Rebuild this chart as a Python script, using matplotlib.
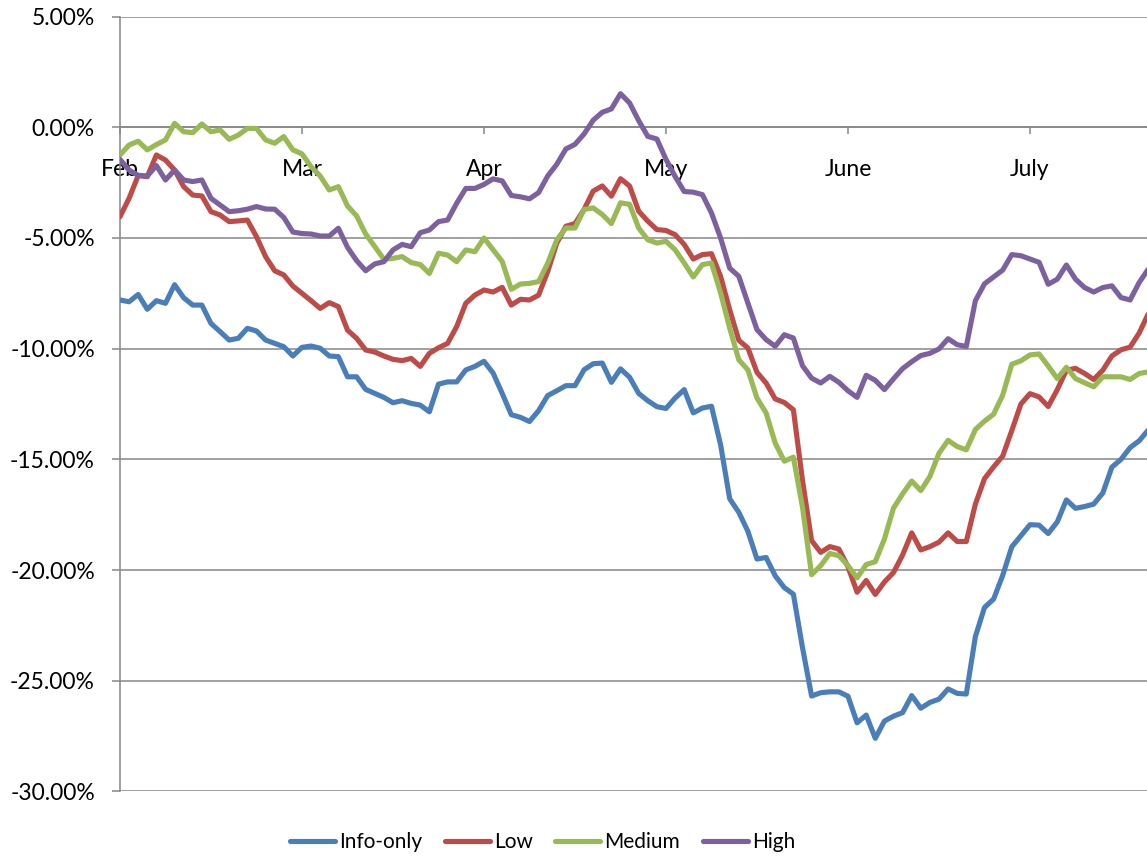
import numpy as np
import matplotlib
matplotlib.use("Agg")
import matplotlib.pyplot as plt
from matplotlib.ticker import FuncFormatter

plt.rcParams['font.family'] = ['Lato', 'DejaVu Sans']

# cumulative return (%) per trading day, roughly 20 points per month starting Feb
info_only = [
    -7.80, -7.88, -7.55, -8.22, -7.83, -7.95, -7.11, -7.70, -8.03, -8.03,
    -8.86, -9.23, -9.61, -9.53, -9.08, -9.20, -9.61, -9.76, -9.91, -10.33,
    -9.94, -9.88, -9.98, -10.33, -10.36, -11.27, -11.27, -11.84, -12.02, -12.20,
    -12.44, -12.35, -12.47, -12.55, -12.85, -11.60, -11.50, -11.50, -10.96, -10.80,
    -10.57, -11.10, -12.02, -12.98, -13.10, -13.29, -12.80, -12.12, -11.90, -11.67,
    -11.67, -10.95, -10.68, -10.65, -11.52, -10.91, -11.29, -12.02, -12.35, -12.62,
    -12.70, -12.23, -11.85, -12.90, -12.68, -12.60, -14.34, -16.78, -17.39, -18.25,
    -19.50, -19.43, -20.26, -20.79, -21.09, -23.50, -25.69, -25.54, -25.50, -25.50,
    -25.70, -26.90, -26.55, -27.60, -26.82, -26.60, -26.44, -25.67, -26.24, -25.98,
    -25.83, -25.37, -25.57, -25.60, -23.00, -21.69, -21.31, -20.24, -18.95, -18.45,
    -17.95, -17.97, -18.35, -17.82, -16.83, -17.21, -17.13, -17.02, -16.52, -15.35,
    -15.00, -14.47, -14.16, -13.67,
]
low = [
    -4.04, -3.21, -2.18, -2.23, -1.25, -1.48, -1.93, -2.68, -3.06, -3.10,
    -3.81, -3.96, -4.26, -4.23, -4.19, -4.94, -5.84, -6.48, -6.67, -7.17,
    -7.50, -7.83, -8.18, -7.92, -8.10, -9.16, -9.53, -10.06, -10.15, -10.33,
    -10.48, -10.54, -10.44, -10.80, -10.21, -9.96, -9.76, -9.00, -7.95, -7.58,
    -7.35, -7.44, -7.23, -8.03, -7.77, -7.80, -7.58, -6.52, -5.23, -4.47,
    -4.35, -3.71, -2.88, -2.65, -3.11, -2.32, -2.65, -3.79, -4.24, -4.62,
    -4.66, -4.85, -5.29, -5.95, -5.75, -5.71, -6.73, -8.24, -9.62, -9.97,
    -11.07, -11.55, -12.27, -12.43, -12.76, -15.95, -18.67, -19.20, -18.94, -19.05,
    -19.85, -21.00, -20.47, -21.10, -20.54, -20.11, -19.32, -18.32, -19.09, -18.94,
    -18.74, -18.32, -18.71, -18.71, -17.02, -15.87, -15.34, -14.85, -13.70, -12.50,
    -12.03, -12.18, -12.61, -11.85, -10.97, -10.89, -11.12, -11.39, -10.97, -10.33,
    -10.05, -9.93, -9.29, -8.42,
]
medium = [
    -1.25, -0.80, -0.63, -1.02, -0.78, -0.57, 0.18, -0.20, -0.24, 0.15,
    -0.20, -0.12, -0.54, -0.35, -0.05, -0.05, -0.57, -0.72, -0.42, -1.02,
    -1.20, -1.78, -2.20, -2.83, -2.68, -3.55, -4.00, -4.82, -5.39, -5.96,
    -5.92, -5.84, -6.11, -6.20, -6.60, -5.69, -5.77, -6.07, -5.54, -5.62,
    -5.00, -5.53, -6.06, -7.32, -7.08, -7.05, -6.97, -6.14, -5.08, -4.55,
    -4.55, -3.71, -3.64, -3.94, -4.35, -3.41, -3.48, -4.55, -5.08, -5.23,
    -5.15, -5.53, -6.13, -6.76, -6.20, -6.13, -7.48, -9.07, -10.50, -10.96,
    -12.23, -12.90, -14.26, -15.08, -14.90, -17.16, -20.21, -19.80, -19.25, -19.35,
    -19.80, -20.35, -19.75, -19.62, -18.60, -17.20, -16.56, -15.98, -16.41, -15.77,
    -14.72, -14.14, -14.42, -14.57, -13.65, -13.27, -12.96, -12.10, -10.70, -10.55,
    -10.28, -10.24, -10.78, -11.35, -10.84, -11.35, -11.54, -11.72, -11.27, -11.27,
    -11.27, -11.39, -11.12, -11.05,
]
high = [
    -1.45, -1.93, -2.17, -2.20, -1.73, -2.38, -1.93, -2.38, -2.45, -2.38,
    -3.21, -3.51, -3.81, -3.77, -3.70, -3.58, -3.69, -3.70, -4.07, -4.73,
    -4.80, -4.82, -4.91, -4.91, -4.56, -5.42, -6.02, -6.48, -6.17, -6.07,
    -5.54, -5.29, -5.39, -4.76, -4.64, -4.26, -4.19, -3.43, -2.76, -2.76,
    -2.58, -2.33, -2.42, -3.08, -3.14, -3.23, -2.95, -2.20, -1.67, -0.98,
    -0.77, -0.30, 0.32, 0.68, 0.83, 1.52, 1.10, 0.30, -0.41, -0.53,
    -1.45, -2.22, -2.90, -2.93, -3.04, -3.87, -5.00, -6.36, -6.73, -7.94,
    -9.14, -9.59, -9.89, -9.37, -9.52, -10.77, -11.33, -11.55, -11.25, -11.52,
    -11.90, -12.20, -11.20, -11.43, -11.85, -11.36, -10.90, -10.59, -10.31, -10.21,
    -10.01, -9.55, -9.82, -9.90, -7.83, -7.07, -6.76, -6.45, -5.75, -5.80,
    -5.95, -6.10, -7.09, -6.86, -6.22, -6.86, -7.24, -7.44, -7.24, -7.16,
    -7.69, -7.80, -7.01, -6.40,
]
months = ["Feb", "Mar", "Apr", "May", "June", "July"]
days_per_month = 20

series = {
    'Info-only': (info_only, '#4A7EBB'),
    'Low': (low, '#BE4B48'),
    'Medium': (medium, '#98B954'),
    'High': (high, '#7D60A0'),
}

fig = plt.figure(figsize=(11.47, 8.56), dpi=100)
ax = fig.add_axes([0.1046, 0.0754, 0.8954, 0.9052])

x = np.arange(len(info_only)) / days_per_month
for name, (vals, col) in series.items():
    ax.plot(x, vals, color=col, lw=3.7, label=name,
            solid_joinstyle='round', solid_capstyle='round', zorder=3)

ax.set_ylim(-30, 5)
ax.set_xlim(0, (1147 - 120) / 182.0)
ax.set_yticks(np.arange(-30, 5.1, 5))
ax.yaxis.set_major_formatter(FuncFormatter(lambda v, p: f"{v:.2f}%"))
ax.grid(axis='y', color='#868686', lw=1.1, zorder=1)

for s in ['top', 'right']:
    ax.spines[s].set_visible(False)
ax.spines['left'].set_color('#868686')
ax.spines['left'].set_linewidth(1.1)
ax.spines['bottom'].set_position(('data', 0))
ax.spines['bottom'].set_color('#868686')
ax.spines['bottom'].set_linewidth(1.1)

ax.set_xticks(np.arange(len(months)))
ax.set_xticklabels(months)
ax.tick_params(axis='y', direction='out', length=6, width=1.1, color='#868686',
               pad=12, labelsize=16.5)
ax.tick_params(axis='x', direction='out', length=5, width=1.1, color='#868686',
               pad=18, labelsize=16.5)

fig.legend(loc='center', bbox_to_anchor=(0.473, 0.0164), ncols=4, frameon=False,
           fontsize=15, handlelength=2.15, handletextpad=0.2, columnspacing=1.1)

fig.savefig('out.png', dpi=100)
